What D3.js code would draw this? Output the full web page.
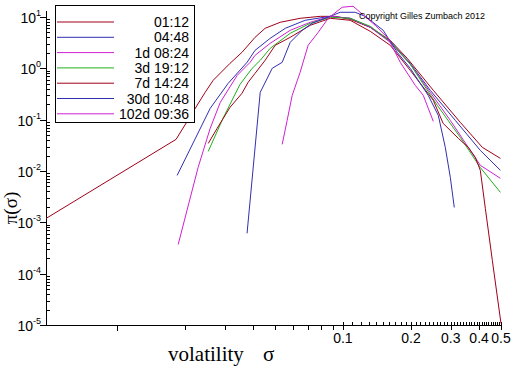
<!DOCTYPE html>
<html><head><meta charset="utf-8">
<script src="https://cdn.jsdelivr.net/npm/d3@7/dist/d3.min.js"></script>
<style>body{margin:0;background:#fff}</style>
</head><body>
<svg id="c" width="512" height="366" xmlns="http://www.w3.org/2000/svg"></svg>
<script>
// ---------- data ----------
const seriesNames = ["01:12", "04:48", "1d 08:24", "3d 19:12", "7d 14:24", "30d 10:48", "102d 09:36"];
const seriesColors = ["#a00018", "#3030b0", "#d020d0", "#20b020", "#a00018", "#3030b0", "#d020d0"];

const sigma_0112 = [0.00487, 0.0183, 0.0246, 0.0267, 0.0317, 0.0358, 0.0409, 0.0453, 0.0528, 0.0647, 0.0794, 0.0925, 0.1077, 0.1321, 0.1619, 0.1925, 0.2510, 0.3304, 0.4134, 0.497];
const pi_0112    = [0.00119, 0.0413, 0.340, 0.584, 1.25, 2.05, 4.02, 6.02, 7.88, 9.43, 10.3, 10.3, 9.02, 6.30, 3.51, 1.57, 0.373, 0.0886, 0.0289, 0.0176];

const sigma_0448 = [0.0185, 0.0259, 0.0311, 0.0377, 0.0409, 0.0477, 0.0556, 0.0681, 0.0879, 0.1077, 0.1321, 0.1619, 0.1985, 0.2434, 0.314, 0.4051, 0.497];
const pi_0448    = [0.0082, 0.166, 0.510, 1.31, 2.24, 3.84, 6.02, 8.63, 10.3, 9.43, 6.30, 3.36, 1.25, 0.373, 0.0969, 0.0252, 0.0103];

const sigma_1d0824 = [0.0187, 0.0229, 0.0259, 0.0287, 0.0341, 0.0389, 0.0409, 0.0477, 0.0585, 0.0717, 0.0879, 0.1077, 0.1321, 0.1619, 0.1985, 0.2434, 0.2985, 0.3658, 0.4051, 0.497];
const pi_1d0824    = [0.00037, 0.0117, 0.0677, 0.217, 0.730, 1.31, 1.79, 3.07, 5.51, 7.88, 10.3, 9.43, 6.30, 3.21, 1.20, 0.340, 0.0969, 0.0252, 0.0129, 0.0072];

const sigma_3d1912 = [0.0254, 0.0295, 0.0351, 0.0397, 0.0431, 0.0477, 0.0585, 0.0717, 0.0879, 0.1077, 0.1321, 0.1619, 0.1985, 0.2614, 0.3304, 0.4051, 0.497];
const pi_3d1912    = [0.0241, 0.106, 0.488, 1.0, 1.43, 2.45, 4.81, 7.54, 9.87, 9.43, 6.59, 3.36, 1.20, 0.190, 0.0451, 0.0117, 0.00383];

const sigma_7d1424 = [0.0254, 0.0278, 0.0317, 0.0358, 0.0381, 0.0409, 0.0453, 0.0502, 0.0585, 0.0717, 0.0879, 0.1077, 0.1321, 0.1619, 0.1985, 0.2510, 0.2774, 0.3240, 0.3584, 0.3849, 0.4051, 0.4263, 0.4578, 0.5];
const pi_7d1424    = [0.0345, 0.0677, 0.174, 0.326, 0.533, 0.799, 1.43, 2.81, 4.02, 6.89, 9.43, 8.63, 5.26, 2.81, 0.914, 0.238, 0.0847, 0.0432, 0.0289, 0.0184, 0.0103, 0.00187, 0.000181, 0.0000107];

const sigma_30d1048 = [0.0377, 0.0431, 0.0487, 0.0539, 0.0585, 0.0661, 0.0731, 0.0835, 0.0973, 0.1133, 0.1255, 0.1507, 0.1739, 0.1985, 0.2383, 0.2641, 0.2836, 0.2985, 0.3108];
const pi_30d1048    = [0.00061, 0.340, 1.0, 1.31, 3.21, 5.51, 7.54, 9.43, 12.35, 12.35, 10.3, 5.51, 2.05, 1.0, 0.298, 0.1213, 0.0289, 0.0075, 0.00195];

const sigma_102d0936 = [0.0539, 0.0567, 0.0597, 0.0647, 0.0702, 0.0778, 0.0861, 0.0993, 0.1110, 0.1192, 0.1390, 0.1585, 0.1793, 0.2089, 0.2266, 0.2510];
const pi_102d0936    = [0.0330, 0.0969, 0.298, 0.836, 2.81, 5.03, 9.43, 15.5, 16.2, 12.35, 6.89, 3.84, 1.31, 0.466, 0.298, 0.0926];

const seriesSigma = [sigma_0112, sigma_0448, sigma_1d0824, sigma_3d1912, sigma_7d1424, sigma_30d1048, sigma_102d0936];
const seriesPi    = [pi_0112, pi_0448, pi_1d0824, pi_3d1912, pi_7d1424, pi_30d1048, pi_102d0936];

const xTickValues = [0.1, 0.2, 0.3, 0.4, 0.5];
const xTickLabels = ["0.1", "0.2", "0.3", "0.4", "0.5"];
const yTickExponents = [1, 0, -1, -2, -3, -4, -5];
const xLabel = "volatility";
const xLabelSymbol = "σ";
const yLabel = "π(σ)";
const copyrightText = "Copyright Gilles Zumbach 2012";

// ---------- scales ----------
const svg = d3.select("#c");
const x = d3.scaleLog().domain([0.00487, 0.5]).range([46, 501]);
const y = d3.scaleLog().domain([1e-5, 10]).range([325, 17]);
const sans = "'Liberation Sans', Arial, sans-serif";
const serif = "'Liberation Serif', 'Times New Roman', serif";

// ---------- axes ----------
const axG = svg.append("g").attr("stroke", "#000").attr("stroke-width", 1).attr("shape-rendering", "crispEdges");
// axis lines
axG.append("line").attr("x1", x(0.00487)).attr("x2", x(0.5)+1).attr("y1", y(1e-5)+0.5).attr("y2", y(1e-5)+0.5);
axG.append("line").attr("x1", x(0.00487)+0.5).attr("x2", x(0.00487)+0.5).attr("y1", y(1e-5)+0.5).attr("y2", y(13));

// y major ticks (left) and minor ticks (right)
yTickExponents.forEach(e => {
  const v = Math.pow(10, e);
  const py = Math.round(y(v)) + 0.5;
  axG.append("line").attr("x1", 40).attr("x2", 46).attr("y1", py).attr("y2", py);
  if (e < 1) {
    for (let m = 2; m <= 9; m++) {
      const vy = Math.round(y(m * v)) + 0.5;
      axG.append("line").attr("x1", 46).attr("x2", 50).attr("y1", vy).attr("y2", vy);
    }
  }
});
// y labels
yTickExponents.forEach(e => {
  const t = svg.append("text").attr("x", 41).attr("y", y(Math.pow(10, e)) + 6)
    .attr("text-anchor", "end").attr("font-family", sans).attr("font-size", 14).attr("fill", "#000");
  t.append("tspan").text("10");
  t.append("tspan").attr("font-size", 9).attr("dy", -7).text(e === 0 ? "0" : (e > 0 ? String(e) : "-" + (-e)));
});

// x ticks
const xMinorDown = [0.01, 0.02, 0.03, 0.04, 0.05, 0.06, 0.07, 0.08, 0.09];
xMinorDown.forEach(v => {
  const px = Math.round(x(v)) + 0.5;
  axG.append("line").attr("x1", px).attr("x2", px).attr("y1", 325).attr("y2", v === 0.01 ? 331 : 330);
});
for (let i = 11; i <= 49; i++) {
  if (i % 10 === 0) continue;
  const px = Math.round(x(i / 100)) + 0.5;
  axG.append("line").attr("x1", px).attr("x2", px).attr("y1", 322).attr("y2", 325);
}
xTickValues.forEach((v, i) => {
  const px = Math.round(x(v)) + 0.5;
  axG.append("line").attr("x1", px).attr("x2", px).attr("y1", 322).attr("y2", 330);
  svg.append("text").attr("x", x(v)).attr("y", 343).attr("text-anchor", "middle")
    .attr("font-family", sans).attr("font-size", 14).attr("fill", "#000").text(xTickLabels[i]);
});

// axis titles
svg.append("text").attr("x", 168).attr("y", 361).attr("font-family", serif).attr("font-size", 21).attr("fill", "#000").text(xLabel);
svg.append("text").attr("x", 263).attr("y", 361).attr("font-family", serif).attr("font-size", 21).attr("fill", "#000").text(xLabelSymbol);
svg.append("text").attr("transform", "translate(17,208) rotate(-90)").attr("text-anchor", "middle")
  .attr("font-family", serif).attr("font-size", 19).attr("fill", "#000").text(yLabel);

// ---------- lines ----------
const line = d3.line().x(d => x(d[0])).y(d => y(d[1]));
seriesNames.forEach((name, i) => {
  const pts = seriesSigma[i].map((s, j) => [s, seriesPi[i][j]]);
  svg.append("path").datum(pts).attr("d", line).attr("fill", "none")
    .attr("stroke", seriesColors[i]).attr("stroke-width", 1);
});

// copyright
svg.append("text").attr("x", 359).attr("y", 19).attr("font-family", sans).attr("font-size", 9)
  .attr("fill", "#000").text(copyrightText);

// ---------- legend ----------
const lg = svg.append("g");
lg.append("rect").attr("x", 55.5).attr("y", 5.5).attr("width", 139).attr("height", 117)
  .attr("fill", "#fff").attr("stroke", "#000").attr("stroke-width", 1);
seriesNames.forEach((name, i) => {
  const ly = 22 + i * 15.3;
  lg.append("line").attr("x1", 57).attr("x2", 114).attr("y1", ly).attr("y2", ly)
    .attr("stroke", seriesColors[i]).attr("stroke-width", 1);
  lg.append("text").attr("x", 189).attr("y", ly + 5).attr("text-anchor", "end")
    .attr("font-family", sans).attr("font-size", 14).attr("fill", "#000").text(name);
});
</script>
</body></html>
